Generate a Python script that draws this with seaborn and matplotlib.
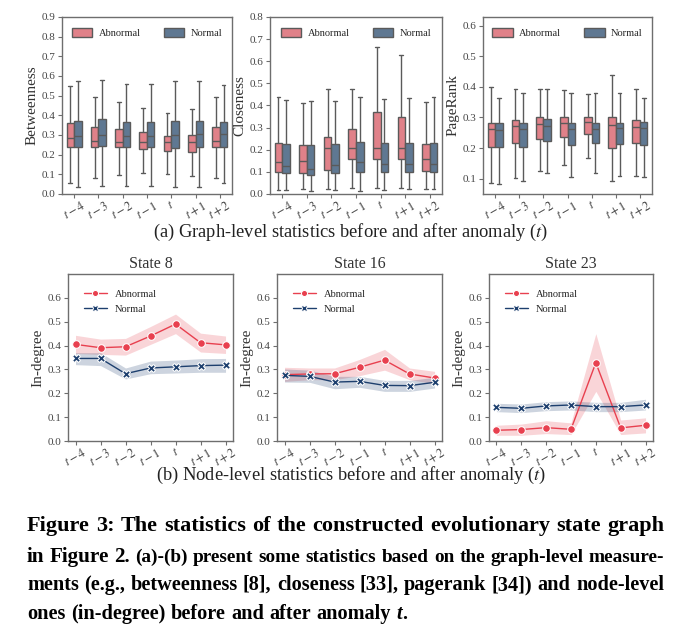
import numpy as np
import pandas as pd
import matplotlib
matplotlib.use('Agg')
import matplotlib.pyplot as plt
import seaborn as sns

# time steps around the anomaly
times = ['t-4', 't-3', 't-2', 't-1', 't', 't+1', 't+2']
tick_labels = [r'$t-4$', r'$t-3$', r'$t-2$', r'$t-1$', r'$t$', r'$t+1$', r'$t+2$']
groups = ['Abnormal', 'Normal']

# box stats per time step: [low whisker, q1, median, q3, high whisker]
btw_abn = [[0.055, 0.239, 0.285, 0.362, 0.547], [0.080, 0.239, 0.268, 0.340, 0.495],
           [0.097, 0.237, 0.263, 0.331, 0.468], [0.109, 0.229, 0.263, 0.314, 0.439],
           [0.102, 0.219, 0.263, 0.297, 0.413], [0.089, 0.213, 0.263, 0.302, 0.434],
           [0.080, 0.239, 0.270, 0.340, 0.495]]
btw_nor = [[0.035, 0.239, 0.297, 0.370, 0.575], [0.041, 0.243, 0.300, 0.379, 0.580],
           [0.043, 0.239, 0.294, 0.365, 0.558], [0.043, 0.239, 0.294, 0.365, 0.558],
           [0.038, 0.236, 0.302, 0.370, 0.575], [0.038, 0.237, 0.306, 0.370, 0.575],
           [0.058, 0.241, 0.306, 0.365, 0.553]]

clo_abn = [[0.018, 0.098, 0.143, 0.232, 0.440], [0.023, 0.095, 0.148, 0.221, 0.410],
           [0.023, 0.110, 0.209, 0.258, 0.476], [0.026, 0.158, 0.209, 0.293, 0.473],
           [0.029, 0.158, 0.209, 0.369, 0.666], [0.029, 0.158, 0.209, 0.349, 0.628],
           [0.021, 0.102, 0.158, 0.227, 0.415]]
clo_nor = [[0.018, 0.095, 0.128, 0.224, 0.427], [0.015, 0.087, 0.113, 0.220, 0.422],
           [0.018, 0.095, 0.130, 0.224, 0.418], [0.015, 0.098, 0.143, 0.235, 0.440],
           [0.018, 0.098, 0.137, 0.229, 0.430], [0.021, 0.098, 0.137, 0.232, 0.433],
           [0.021, 0.098, 0.137, 0.232, 0.437]]

pr_abn = [[0.086, 0.205, 0.261, 0.283, 0.398], [0.102, 0.216, 0.272, 0.292, 0.394],
          [0.126, 0.229, 0.279, 0.300, 0.394], [0.145, 0.237, 0.281, 0.300, 0.391],
          [0.169, 0.246, 0.284, 0.300, 0.378], [0.091, 0.200, 0.275, 0.300, 0.438],
          [0.108, 0.216, 0.270, 0.290, 0.394]]
pr_nor = [[0.084, 0.202, 0.259, 0.283, 0.365], [0.091, 0.205, 0.261, 0.283, 0.381],
          [0.118, 0.223, 0.272, 0.294, 0.394], [0.104, 0.210, 0.261, 0.283, 0.381],
          [0.118, 0.218, 0.261, 0.283, 0.381], [0.110, 0.213, 0.265, 0.283, 0.381],
          [0.104, 0.210, 0.265, 0.286, 0.362]]

# in-degree: value, band low, band high
s8_abn = [0.405, 0.391, 0.395, 0.440, 0.490, 0.412, 0.403]
s8_abn_lo = [0.367, 0.363, 0.360, 0.405, 0.450, 0.373, 0.367]
s8_abn_hi = [0.443, 0.427, 0.430, 0.480, 0.532, 0.452, 0.440]
s8_nor = [0.346, 0.346, 0.282, 0.306, 0.311, 0.316, 0.318]
s8_nor_lo = [0.320, 0.316, 0.260, 0.282, 0.285, 0.288, 0.288]
s8_nor_hi = [0.370, 0.370, 0.306, 0.335, 0.339, 0.345, 0.346]

s16_abn = [0.278, 0.281, 0.282, 0.309, 0.339, 0.281, 0.264]
s16_abn_lo = [0.250, 0.257, 0.257, 0.274, 0.297, 0.257, 0.240]
s16_abn_hi = [0.309, 0.306, 0.306, 0.342, 0.384, 0.306, 0.292]
s16_nor = [0.275, 0.271, 0.247, 0.250, 0.233, 0.232, 0.246]
s16_nor_lo = [0.247, 0.246, 0.219, 0.225, 0.208, 0.208, 0.222]
s16_nor_hi = [0.302, 0.297, 0.271, 0.271, 0.254, 0.254, 0.267]

s23_abn = [0.045, 0.048, 0.056, 0.049, 0.328, 0.055, 0.066]
s23_abn_lo = [0.024, 0.024, 0.031, 0.027, 0.208, 0.027, 0.034]
s23_abn_hi = [0.066, 0.071, 0.085, 0.076, 0.450, 0.088, 0.097]
s23_nor = [0.141, 0.137, 0.147, 0.151, 0.144, 0.144, 0.151]
s23_nor_lo = [0.123, 0.119, 0.127, 0.130, 0.123, 0.123, 0.130]
s23_nor_hi = [0.158, 0.155, 0.165, 0.168, 0.162, 0.162, 0.175]

box_colors = {'Abnormal': '#f0717c', 'Normal': '#56789a'}
line_colors = {'Abnormal': '#e8404f', 'Normal': '#1d3f6e'}
spine_col = '#6e6e6e'

sns.set_theme(style='ticks')
plt.rcParams['font.family'] = ['Liberation Serif', 'DejaVu Serif']
plt.rcParams['mathtext.fontset'] = 'stix'

fig = plt.figure(figsize=(6.78, 6.36), dpi=100)


def style_axes(ax, ylabel):
    for s in ax.spines.values():
        s.set_color(spine_col)
        s.set_linewidth(1.0)
    ax.tick_params(axis='both', colors=spine_col, labelcolor='#454545',
                   labelsize=8, length=3, width=0.8, pad=2)
    ax.tick_params(axis='x', labelsize=9, pad=0.5)
    ax.set_ylabel(ylabel, fontsize=11, color='#333333', labelpad=2)
    ax.set_xlabel('')
    for lbl in ax.get_xticklabels():
        lbl.set_rotation(30)
        lbl.set_ha('center')


def box_panel(rect, abn, nor, ylabel, ylim, yticks):
    rows = []
    for g, stats in zip(groups, [abn, nor]):
        for t, five in zip(times, stats):
            for v in five:
                rows.append({'time': t, 'group': g, 'value': v})
    df = pd.DataFrame(rows)
    ax = fig.add_axes(rect)
    sns.boxplot(data=df, x='time', y='value', hue='group', order=times,
                hue_order=groups, palette=box_colors, width=0.62, gap=0,
                whis=np.inf, showfliers=False, linecolor='#5a5a5a',
                linewidth=1.0, ax=ax)
    ax.set_ylim(*ylim)
    ax.set_yticks(yticks)
    ax.set_xticks(range(len(times)))
    ax.set_xticklabels(tick_labels)
    h, l = ax.get_legend_handles_labels()
    ax.legend(h, l, loc='upper center', ncol=2, frameon=False, fontsize=7.5,
              handlelength=2.0, handleheight=0.9, columnspacing=2.2,
              handletextpad=0.6, borderaxespad=0.7)
    style_axes(ax, ylabel)
    return ax


def line_panel(rect, title, series):
    rows = []
    for g, (mid, lo, hi) in zip(groups, series):
        for i in range(len(times)):
            for v in (lo[i], mid[i], hi[i]):
                rows.append({'x': i, 'group': g, 'value': v})
    df = pd.DataFrame(rows)
    ax = fig.add_axes(rect)
    sns.lineplot(data=df, x='x', y='value', hue='group', style='group',
                 hue_order=groups, style_order=groups, palette=line_colors,
                 markers=['o', 'X'], dashes=False, markersize=5.5,
                 linewidth=1.0, estimator='median', errorbar=('pi', 100),
                 err_kws={'alpha': 0.22, 'linewidth': 0}, ax=ax)
    ax.set_ylim(0, 0.7)
    ax.set_yticks(np.round(np.arange(0, 0.61, 0.1), 1))
    ax.set_xticks(range(len(times)))
    ax.set_xticklabels(tick_labels)
    ax.set_title(title, fontsize=11.5, color='#333333', pad=4)
    h, l = ax.get_legend_handles_labels()
    ax.legend(h, l, loc='upper left', frameon=False, fontsize=7.5,
              handlelength=2.2, borderaxespad=1.1, labelspacing=0.55,
              markerscale=0.8)
    style_axes(ax, 'In-degree')
    return ax


# (a) graph-level box plots
box_panel([0.0914, 0.695, 0.2507, 0.2783], btw_abn, btw_nor, 'Betweenness',
          (0, 0.9), np.round(np.arange(0, 0.91, 0.1), 1))
box_panel([0.3982, 0.695, 0.2537, 0.2783], clo_abn, clo_nor, 'Closeness',
          (0, 0.8), np.round(np.arange(0, 0.81, 0.1), 1))
box_panel([0.7124, 0.695, 0.2493, 0.2783], pr_abn, pr_nor, 'PageRank',
          (0.05, 0.628), np.round(np.arange(0.1, 0.61, 0.1), 1))

fig.text(0.517, 1 - 232 / 636, r'(a) Graph-level statistics before and after anomaly ($t$)',
         ha='center', va='center', fontsize=13.3, color='#222222')

# (b) node-level line plots
line_panel([0.1003, 0.3066, 0.2434, 0.2626], 'State 8',
           [(s8_abn, s8_abn_lo, s8_abn_hi), (s8_nor, s8_nor_lo, s8_nor_hi)])
line_panel([0.4086, 0.3066, 0.2434, 0.2626], 'State 16',
           [(s16_abn, s16_abn_lo, s16_abn_hi), (s16_nor, s16_nor_lo, s16_nor_hi)])
line_panel([0.7212, 0.3066, 0.2419, 0.2626], 'State 23',
           [(s23_abn, s23_abn_lo, s23_abn_hi), (s23_nor, s23_nor_lo, s23_nor_hi)])

fig.text(0.518, 1 - 475 / 636, r'(b) Node-level statistics before and after anomaly ($t$)',
         ha='center', va='center', fontsize=13.3, color='#222222')

# figure caption, justified between x0 and x1 (pixels)
renderer = fig.canvas.get_renderer()
x0, x1 = 27, 664


def caption_line(y, pieces, justify=True, fit=False):
    words = []
    for txt, size, style in pieces:
        for w in txt.split(' '):
            if w:
                words.append([w, size, style])
    gaps = [i for i in range(1, len(words)) if words[i][0] != '.']

    def place(k):
        arts = []
        for w, size, style in words:
            t = fig.text(0, 1 - y / 636, w, fontsize=size * k, fontweight='bold',
                         fontstyle=style, va='center', color='black')
            arts.append((t, t.get_window_extent(renderer).width))
        return arts

    scale = 1.0
    if fit:
        arts = place(1.0)
        total = sum(wd for _, wd in arts)
        space0 = 0.27 * words[-1][1] * 100 / 72 * len(gaps)
        scale = (x1 - x0) / (total + space0)
        for t, _ in arts:
            t.remove()
    arts = place(scale)
    total = sum(wd for _, wd in arts)
    if justify:
        space = (x1 - x0 - total) / max(len(gaps), 1)
    else:
        space = 0.27 * words[0][1] * 100 / 72
    x = x0
    for i, (t, wd) in enumerate(arts):
        if i in gaps:
            x += space
        t.set_x(x / 678)
        x += wd
    return scale


k1 = caption_line(526, [('Figure 3: The statistics of the constructed evolutionary state graph', 14.5, 'normal')], fit=True)
k3 = caption_line(585, [('ments (e.g., betweenness [8], closeness [33], pagerank [34]) and node-level', 11.5, 'normal')], fit=True)
big, small = 14.5 * k1, 11.5 * k3
caption_line(557, [('in Figure 2.', big, 'normal'),
                   ('(a)-(b) present some statistics based on the graph-level measure-', small, 'normal')],
             fit=True)
caption_line(614, [('ones (in-degree) before and after anomaly', small, 'normal'),
                   ('t', small, 'italic'), ('.', small, 'normal')], justify=False)

fig.savefig('out.png', dpi=100)
